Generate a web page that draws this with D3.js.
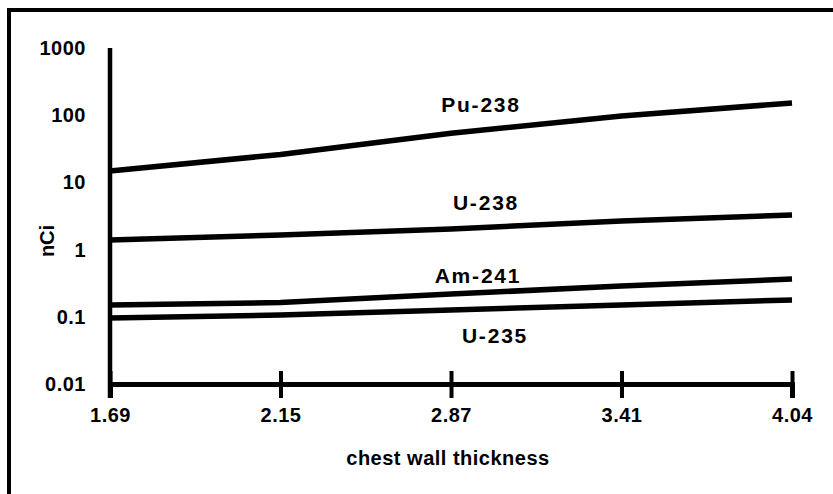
<!DOCTYPE html>
<html>
<head>
<meta charset="utf-8">
<script src="https://cdn.jsdelivr.net/npm/d3@7"></script>
<style>
  html, body { margin: 0; padding: 0; background: #fff; }
  svg { display: block; }
  text { font-family: "Liberation Sans", Arial, Helvetica, sans-serif; font-weight: bold; fill: #000; }
</style>
</head>
<body>
<svg id="chart" width="833" height="494"></svg>
<script>
// ---- data ----
const categories = ["1.69", "2.15", "2.87", "3.41", "4.04"];
const pu238 = [14.8, 26, 54, 97, 152];
const u238  = [1.39, 1.65, 2.03, 2.67, 3.27];
const am241 = [0.15, 0.163, 0.218, 0.287, 0.365];
const u235  = [0.096, 0.106, 0.126, 0.15, 0.178];
const seriesNames = ["Pu-238", "U-238", "Am-241", "U-235"];
const yTickValues = [0.01, 0.1, 1, 10, 100, 1000];
const yTickLabels = ["0.01", "0.1", "1", "10", "100", "1000"];
const xTitle = "chest wall thickness";
const yTitle = "nCi";

const svg = d3.select("#chart");

// frame (top and left edges)
svg.append("line").attr("x1", 7).attr("x2", 833).attr("y1", 10).attr("y2", 10)
  .attr("stroke", "#000").attr("stroke-width", 4);
svg.append("line").attr("x1", 9).attr("x2", 9).attr("y1", 8).attr("y2", 494)
  .attr("stroke", "#000").attr("stroke-width", 4);

const x = d3.scalePoint().domain(categories).range([110, 792]);
const y = d3.scaleLog().domain([0.01, 1000]).range([384, 48]);

// x axis
const xAxis = d3.axisBottom(x).tickSize(14).tickPadding(12);
const gx = svg.append("g").attr("transform", "translate(0,384)").call(xAxis);
gx.select(".domain").attr("stroke", "#000").attr("stroke-width", 5);
gx.selectAll(".tick line").attr("y1", -13).attr("y2", 14).attr("stroke", "#000").attr("stroke-width", 4);
gx.selectAll(".tick text").attr("font-size", 20).attr("font-family", null).attr("y", 24)
  .attr("dy", "0.71em").style("letter-spacing", "0.5px");

// y axis
const yAxis = d3.axisLeft(y).tickValues(yTickValues).tickSize(0).tickPadding(24)
  .tickFormat((d, i) => yTickLabels[i]);
const gy = svg.append("g").attr("transform", "translate(110,0)").call(yAxis);
gy.select(".domain").attr("d", `M0,${y(1000)}V${384 + 14}`).attr("stroke", "#000").attr("stroke-width", 4.5);
gy.selectAll(".tick text").attr("font-size", 20).attr("font-family", null).style("letter-spacing", "0.5px");

// lines
const seriesData = [pu238, u238, am241, u235];
const line = d3.line().x((d, i) => x(categories[i])).y(d => y(d));
svg.append("g").selectAll("path").data(seriesData).join("path")
  .attr("d", line).attr("fill", "none").attr("stroke", "#000")
  .attr("stroke-width", 5.5).attr("stroke-linecap", "butt");

// series labels
const labelPos = [[481, 112], [486, 210], [478, 283], [495, 343]];
svg.append("g").selectAll("text").data(seriesNames).join("text")
  .attr("x", (d, i) => labelPos[i][0]).attr("y", (d, i) => labelPos[i][1])
  .attr("text-anchor", "middle").attr("font-size", 21)
  .style("letter-spacing", "1.8px").text(d => d);

// axis titles
svg.append("text").attr("x", 448).attr("y", 465).attr("text-anchor", "middle")
  .attr("font-size", 20).style("letter-spacing", "0.5px").text(xTitle);
svg.append("text").attr("transform", "translate(54,241) rotate(-90)")
  .attr("text-anchor", "middle").attr("font-size", 20).text(yTitle);
</script>
</body>
</html>
